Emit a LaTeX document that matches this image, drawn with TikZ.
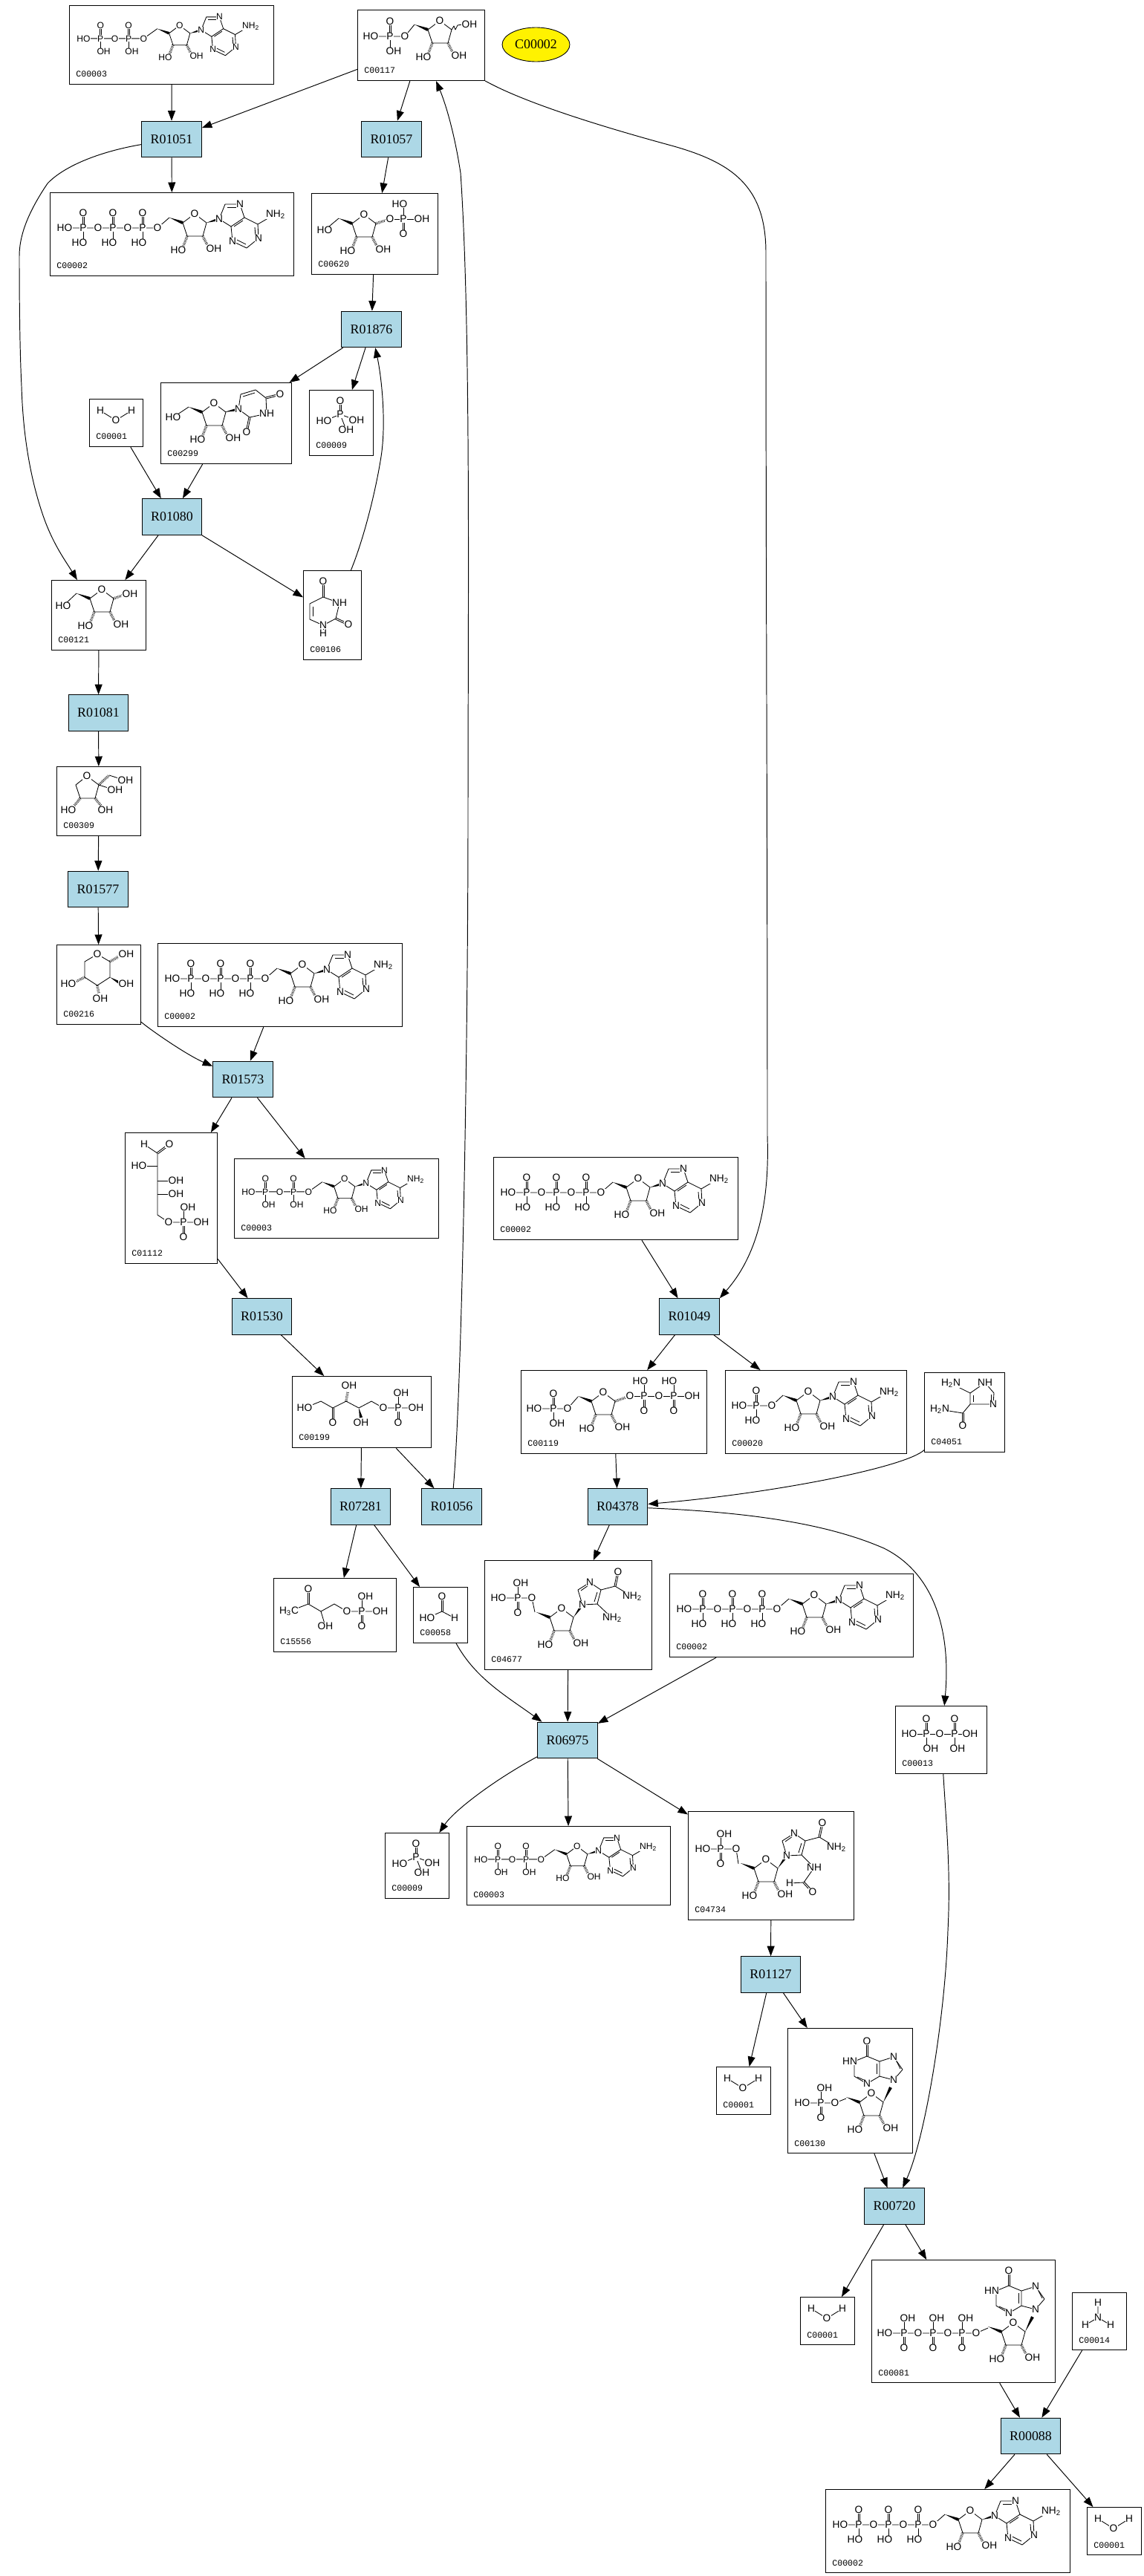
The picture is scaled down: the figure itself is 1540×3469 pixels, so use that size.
\documentclass[tikz,border=0pt]{standalone}
\usepackage{fontspec}
\usepackage{tikz}
\usetikzlibrary{arrows.meta,calc,shapes.geometric}
\newfontfamily\rxnfont{Liberation Serif}
\newfontfamily\atmfont{Liberation Sans}
\newfontfamily\idfont{Liberation Mono}
\tikzset{
  rxn/.style={draw, fill={rgb,255:red,173;green,216;blue,230}, line width=0.65pt, inner sep=0pt,
              minimum width=1.61cm, minimum height=0.97cm, font=\rxnfont\fontsize{10.2}{11}\selectfont},
  cpdbox/.style={draw, line width=0.65pt, inner sep=0pt, anchor=north west},
  cpdid/.style={anchor=west, inner sep=0pt, font=\idfont\fontsize{6.6}{7}\selectfont},
  atm/.style={fill=white, inner sep=0.25pt, font=\atmfont\fontsize{7.8}{8}\selectfont},
  bond/.style={line width=0.48pt, line join=round},
  hashb/.style={line width=2pt, dash pattern=on 0.35pt off 0.75pt},
  arrow/.style={-{Triangle[length=0.27cm,width=0.2cm]}, line width=0.55pt},
}
\newcounter{atomno}
\newcommand{\atoms}[1]{\foreach \xa/\ya/\ta in {#1}{\stepcounter{atomno}\node[atm] (atm\theatomno) at (\xa,\ya) {\ta};}}
\newcommand{\wedgeb}[2]{\fill (#1) -- ($(#2)!1.2pt!90:(#1)$) -- ($(#2)!-1.2pt!90:(#1)$) -- cycle;}
\newcommand{\dbb}[2]{\draw[bond] ($(#1)!0.6pt!90:(#2)$) -- ($(#2)!0.6pt!-90:(#1)$);
  \draw[bond] ($(#1)!-0.6pt!90:(#2)$) -- ($(#2)!-0.6pt!-90:(#1)$);}
\newcommand{\NHt}{NH\textsubscript{2}}
\newcommand{\Hn}{H\textsubscript{2}N}
% phosphorus with =O on top and a hydroxyl below
\newcommand{\pdown}[4]{\dbb{#1,#2}{#1,#2-20} \draw[bond] (#1,#2) -- (#1,#2+16);
  \atoms{#1/#2/P, #1/#2-20/O, #1+#3/#2+20/#4}}
% phosphorus with a hydroxyl on top and =O below
\newcommand{\pup}[4]{\dbb{#1,#2}{#1,#2+20} \draw[bond] (#1,#2) -- (#1,#2-16);
  \atoms{#1/#2/P, #1/#2+20/O, #1+#3/#2-20/#4}}
% sugar ring, origin at C4'
\newcommand{\ribRing}{\draw[bond] (0,0) -- (16,-12) -- (32,0) -- (27,18) -- (6,18) -- cycle;
  \wedgeb{-18,-7}{0,0}
  \draw[hashb] (6,18) -- (1,31); \draw[hashb] (27,18) -- (33,30);
  \atoms{16/-12/O, -6/37/HO, 42/35/OH}}
\newcommand{\adeBase}{\wedgeb{32,0}{49,-5}
  \draw[bond] (49,-5) -- (57,-25) -- (77,-25) -- (83,-7) -- (65,5) -- cycle;
  \draw[bond] (83,-7) -- (101,2) -- (102,21) -- (86,34) -- (67,25) -- (65,5);
  \draw[bond] (101,2) -- (125,-12);
  \draw[bond] (60,-21) -- (73,-21); \draw[bond] (81,-3) -- (69,5); \draw[bond] (97,6) -- (98,18); \draw[bond] (85,29) -- (73,23);
  \atoms{49/-5/N, 77/-25/N, 67/25/N, 102/21/N, 125/-11/\NHt}}
\newcommand{\hypoBase}{\wedgeb{32,0}{42,-20}
  \draw[bond] (10,-62) -- (-7,-55) -- (-7,-35) -- (10,-25) -- (27,-35) -- (27,-55) -- cycle;
  \draw[bond] (27,-55) -- (46,-61) -- (58,-44) -- (46,-30) -- (27,-35);
  \dbb{10,-62}{10,-82}
  \draw[bond] (23,-38) -- (23,-52); \draw[bond] (50,-55) -- (55,-45); \draw[bond] (-3,-34) -- (8,-29);
  \atoms{10/-82/O, -13/-55/HN, 10/-25/N, 46/-61/N, 46/-30/N}}
% the compounds, origin at the box corner
\newcommand{\molATP}{\draw[bond] (20,48) -- (145,48) -- (161,34);
  \pdown{45}{48}{-5}{HO}\pdown{85}{48}{-5}{HO}\pdown{125}{48}{-5}{HO}
  \atoms{20/48/HO, 65/48/O, 105/48/O, 145/48/O}
  \begin{scope}[shift={(179,41)}]\ribRing\adeBase\end{scope}}
\newcommand{\molADP}{\begin{scope}[scale=0.88, transform shape]
  \draw[bond] (22,51) -- (114,51) -- (135,36);
  \pdown{48}{51}{5}{OH}\pdown{91}{51}{5}{OH}
  \atoms{22/51/HO, 70/51/O, 114/51/O}
  \begin{scope}[shift={(153,43)}]\ribRing\adeBase\end{scope}\end{scope}}
\newcommand{\molAMP}{\draw[bond] (19,48) -- (63,48) -- (78,34);
  \pdown{42}{48}{-5}{HO}
  \atoms{19/48/HO, 63/48/O}
  \begin{scope}[shift={(96,41)}]\ribRing\adeBase\end{scope}}
\newcommand{\molRFP}{\draw[bond] (18,36) -- (64,36) -- (77,20);
  \pdown{44}{36}{5}{OH}
  \atoms{18/36/HO, 64/36/O}
  \begin{scope}[shift={(95,27)}]\ribRing
    \draw[bond] (32,0) -- (35,-5) -- (37,0) -- (40,-6) -- (46,-7);
    \atoms{56/-7/OH}\end{scope}}
\newcommand{\molRop}{\begin{scope}[shift={(55,41)}]
  \draw[bond] (-18,-7) -- (-37,9); \draw[hashb] (32,0) -- (51,-6); \draw[bond] (51,-6) -- (94,-6);
  \ribRing
  \pup{69}{-6}{-5}{HO}
  \atoms{-37/9/HO, 51/-6/O, 94/-6/OH}\end{scope}}
\newcommand{\molRib}{\begin{scope}[shift={(52,25)}]
  \draw[bond] (-18,-7) -- (-36,10); \draw[hashb] (32,0) -- (46,-5);
  \ribRing
  \atoms{-36/10/HO, 54/-6/OH}\end{scope}}
\newcommand{\molUrd}{\begin{scope}[shift={(56,40)}]
  \draw[bond] (-18,-7) -- (-39,7);
  \ribRing
  \wedgeb{30,0}{49,-4}
  \draw[bond] (49,-4) -- (52,-24) -- (72,-30) -- (86,-19) -- (87,2) -- (64,7) -- cycle;
  \draw[bond] (55,-21) -- (71,-26);
  \dbb{86,-19}{105,-24} \dbb{64,7}{60,27}
  \atoms{-39/7/HO, 49/-4/N, 105/-24/O, 87/2/NH, 60/27/O}\end{scope}}
\newcommand{\molUra}{\draw[bond] (27,36) -- (49,44) -- (44,65) -- (27,74) -- (9,66) -- (9,45) -- cycle;
  \draw[bond] (13,49) -- (13,62);
  \dbb{27,36}{27,15} \dbb{44,65}{61,73} \draw[bond] (27,74) -- (27,85);
  \atoms{27/15/O, 49/44/NH, 61/73/O, 27/85/H, 27/74/N}}
\newcommand{\molPi}{\draw[bond] (42,33) -- (20,42); \draw[bond] (42,33) -- (64,41); \draw[bond] (42,33) -- (50,54);
  \dbb{42,33}{42,15}
  \atoms{42/15/O, 42/33/P, 20/42/HO, 64/41/OH, 50/54/OH}}
\newcommand{\molWat}{\draw[bond] (15,16) -- (36,29) -- (57,16);
  \atoms{15/16/H, 36/29/O, 57/16/H}}
\newcommand{\molNH}{\draw[bond] (35,14) -- (35,34) -- (18,44); \draw[bond] (35,34) -- (52,44);
  \atoms{35/14/H, 35/34/N, 18/44/H, 52/44/H}}
\newcommand{\molFru}{\draw[bond] (41,13) -- (26,25) -- (32,43) -- (52,43) -- (57,25) -- cycle;
  \draw[hashb] (32,43) -- (24,53); \draw[hashb] (52,43) -- (60,53);
  \draw[hashb] (57,25) -- (71,12);
  \draw[bond] (71,12) -- (93,19); \draw[bond] (57,25) -- (79,32);
  \atoms{41/13/O, 16/59/HO, 66/59/OH, 93/19/OH, 79/32/OH}}
\newcommand{\molPyr}{\draw[bond] (55,13) -- (72,23) -- (72,44) -- (55,55) -- (38,44) -- (38,23) -- cycle;
  \draw[hashb] (72,23) -- (84,16); \wedgeb{72,44}{86,52}
  \draw[hashb] (38,44) -- (24,51); \draw[hashb] (55,55) -- (57,66);
  \atoms{55/13/O, 94/13/OH, 94/53/OH, 16/53/HO, 59/73/OH}}
\newcommand{\molOpen}{\draw[bond] (26,16) -- (44,28) -- (44,111) -- (59,121) -- (103,121);
  \dbb{44,28}{60,16}
  \draw[bond] (19,45) -- (44,45); \draw[bond] (44,65) -- (69,65); \draw[bond] (44,83) -- (69,83);
  \pup{79}{121}{6}{OH}
  \atoms{26/16/H, 60/16/O, 19/45/HO, 69/65/OH, 69/83/OH, 59/121/O, 103/121/OH}}
\newcommand{\molKet}{\draw[bond] (17,43) -- (39,34) -- (55,43) -- (73,34) -- (90,43) -- (107,34) -- (123,43) -- (167,43);
  \dbb{55,43}{55,63}
  \draw[hashb] (73,34) -- (75,21); \wedgeb{90,43}{93,56}
  \pup{143}{43}{4}{OH}
  \atoms{17/43/HO, 55/63/O, 77/13/OH, 93/63/OH, 123/43/O, 167/43/OH}}
\newcommand{\molOxo}{\draw[bond] (21,45) -- (47,35) -- (64,45) -- (82,35) -- (99,45) -- (144,45);
  \dbb{47,35}{47,15} \draw[bond] (64,45) -- (70,65);
  \pup{119}{45}{5}{OH}
  \atoms{21/45/H\textsubscript{3}C, 47/15/O, 70/65/OH, 99/45/O, 144/45/OH}}
\newcommand{\molFor}{\dbb{39,33}{39,13} \draw[bond] (19,42) -- (39,33) -- (56,42);
  \atoms{39/13/O, 19/42/HO, 56/42/H}}
\newcommand{\molAir}{\draw[bond] (19,51) -- (64,51) -- (68,70);
  \pup{45}{51}{4}{OH}
  \atoms{19/51/HO, 64/51/O}
  \begin{scope}[shift={(88,77)}]\ribRing\wedgeb{32,0}{44,-17}
  \draw[bond] (44,-17) -- (38,-37) -- (54,-47) -- (69,-37) -- (64,-18) -- cycle;
  \draw[bond] (69,-37) -- (88,-42) -- (111,-28); \dbb{88,-42}{92,-61}
  \draw[bond] (64,-34) -- (60,-21); \draw[bond] (42,-36) -- (52,-43);
  \draw[bond] (64,-18) -- (84,1);
  \atoms{44/-17/N, 54/-47/N, 92/-61/O, 111/-28/\NHt, 84/1/\NHt}\end{scope}}
\newcommand{\molFai}{\draw[bond] (20,51) -- (65,51) -- (68,71);
  \pup{44}{51}{5}{OH}
  \atoms{20/51/HO, 65/51/O}
  \begin{scope}[shift={(89,77)}]\ribRing\wedgeb{32,0}{44,-17}
  \draw[bond] (44,-17) -- (38,-37) -- (54,-47) -- (69,-37) -- (64,-18) -- cycle;
  \draw[bond] (69,-37) -- (88,-42) -- (111,-28); \dbb{88,-42}{92,-61}
  \draw[bond] (64,-34) -- (60,-21); \draw[bond] (42,-36) -- (52,-43);
  \draw[bond] (64,-18) -- (81,-1) -- (67,19) -- (48,20); \dbb{67,19}{79,32}
  \atoms{44/-17/N, 54/-47/N, 92/-61/O, 111/-28/\NHt, 81/-1/NH, 48/20/H, 79/32/O}\end{scope}}
\newcommand{\molPRPP}{\draw[bond] (18,52) -- (63,52) -- (77,36);
  \pdown{44}{52}{5}{OH}
  \atoms{18/52/HO, 63/52/O}
  \begin{scope}[shift={(95,42)}]
  \draw[hashb] (32,0) -- (46,-5); \draw[bond] (52,-7) -- (136,-7);
  \ribRing
  \pup{71}{-7}{-5}{HO}\pup{111}{-7}{-6}{HO}
  \atoms{52/-7/O, 91/-7/O, 136/-7/OH}\end{scope}}
\newcommand{\molPPi}{\draw[bond] (19,38) -- (101,38);
  \pdown{42}{38}{6}{OH}\pdown{80}{38}{4}{OH}
  \atoms{19/38/HO, 60/38/O, 101/38/OH}}
\newcommand{\molAic}{\draw[bond] (62,28) -- (82,14) -- (94,28) -- (93,43) -- (62,43) -- cycle;
  \draw[bond] (66,31) -- (66,40); \draw[bond] (90,30) -- (90,41);
  \draw[bond] (36,15) -- (62,28); \draw[bond] (62,43) -- (52,55) -- (21,50); \dbb{52,55}{52,72}
  \atoms{36/15/\Hn, 82/14/NH, 93/43/N, 52/72/O, 21/50/\Hn}}
\newcommand{\molIMP}{\draw[bond] (20,101) -- (64,101) -- (79,95);
  \pup{45}{101}{5}{OH}
  \atoms{20/101/HO, 64/101/O}
  \begin{scope}[shift={(97,100)}]\ribRing\hypoBase\end{scope}}
\newcommand{\molITP}{\draw[bond] (18,99) -- (141,99) -- (157,92);
  \pup{44}{99}{5}{OH}\pup{83}{99}{5}{OH}\pup{122}{99}{5}{OH}
  \atoms{18/99/HO, 63/99/O, 103/99/O, 141/99/O}
  \begin{scope}[shift={(175,97)}]\ribRing\hypoBase\end{scope}}
% box, compound number and drawing
\newcommand{\cpd}[7]{\node[cpdbox, minimum width=#4*0.02cm, minimum height=#5*0.02cm] (#1) at (#2,#3) {};
  \node[cpdid] (#1id) at ($(#1.south west)+(9,-14)$) {#6};
  \begin{scope}[shift={(#2,#3)}]#7\end{scope}}

\begin{document}
\begin{tikzpicture}[x=0.02cm, y=-0.02cm]
  \useasboundingbox (0,0) rectangle (1540,3469);

  \cpd{c00003a}{93}{7}{275}{106}{C00003}{\molADP}
  \cpd{c00117}{481}{13}{171}{95}{C00117}{\molRFP}
  \node[draw, ellipse, fill=yellow, line width=0.5pt, inner sep=0pt, minimum width=1.82cm, minimum height=0.92cm,
        font=\rxnfont\fontsize{10.2}{11}\selectfont] (cpdc00002) at (721.5,60) {C00002};
  \cpd{c00002a}{67}{259}{328}{112}{C00002}{\molATP}
  \cpd{c00620}{419}{260}{170}{109}{C00620}{\molRop}
  \cpd{c00299}{216}{515}{176}{109}{C00299}{\molUrd}
  \cpd{c00009a}{416}{525}{86}{88}{C00009}{\molPi}
  \cpd{c00001a}{120}{537}{72}{64}{C00001}{\molWat}
  \cpd{c00121}{69}{781}{127}{94}{C00121}{\molRib}
  \cpd{c00106}{408}{768}{78}{120}{C00106}{\molUra}
  \cpd{c00309}{76}{1032}{113}{93}{C00309}{\molFru}
  \cpd{c00216}{76}{1272}{113}{107}{C00216}{\molPyr}
  \cpd{c00002b}{212}{1270}{329}{112}{C00002}{\molATP}
  \cpd{c01112}{168}{1525}{124}{176}{C01112}{\molOpen}
  \cpd{c00003b}{315}{1560}{275}{107}{C00003}{\molADP}
  \cpd{c00002d}{664}{1558}{329}{111}{C00002}{\molATP}
  \cpd{c00199}{393}{1853}{187}{96}{C00199}{\molKet}
  \cpd{c00119}{701}{1845}{250}{112}{C00119}{\molPRPP}
  \cpd{c00020}{976}{1845}{244}{112}{C00020}{\molAMP}
  \cpd{c04051}{1244}{1848}{108}{107}{C04051}{\molAic}
  \cpd{c15556}{368}{2125}{165}{99}{C15556}{\molOxo}
  \cpd{c00058}{556}{2137}{73}{75}{C00058}{\molFor}
  \cpd{c04677}{652}{2101}{225}{147}{C04677}{\molAir}
  \cpd{c00002c}{901}{2119}{328}{112}{C00002}{\molATP}
  \cpd{c00013}{1205}{2297}{123}{91}{C00013}{\molPPi}
  \cpd{c00009b}{518}{2468}{86}{88}{C00009}{\molPi}
  \cpd{c00003c}{628}{2459}{274}{106}{C00003}{\molADP}
  \cpd{c04734}{926}{2439}{223}{146}{C04734}{\molFai}
  \cpd{c00001b}{964}{2783}{73}{64}{C00001}{\molWat}
  \cpd{c00130}{1060}{2731}{168}{168}{C00130}{\molIMP}
  \cpd{c00001c}{1077}{3093}{73}{64}{C00001}{\molWat}
  \cpd{c00081}{1173}{3043}{247}{165}{C00081}{\molITP}
  \cpd{c00014}{1443}{3087}{73}{77}{C00014}{\molNH}
  \cpd{c00002e}{1111}{3352}{329}{112}{C00002}{\molATP}
  \cpd{c00001d}{1463}{3376}{73}{64}{C00001}{\molWat}

  \node[rxn] (r01051) at (231,187.5) {R01051};
  \node[rxn] (r01057) at (527,187.5) {R01057};
  \node[rxn] (r01876) at (500,443.5) {R01876};
  \node[rxn] (r01080) at (231.5,696) {R01080};
  \node[rxn] (r01081) at (132.5,960) {R01081};
  \node[rxn] (r01577) at (132,1197.5) {R01577};
  \node[rxn] (r01573) at (327,1453.5) {R01573};
  \node[rxn] (r01530) at (352.5,1773) {R01530};
  \node[rxn] (r07281) at (485.5,2029) {R07281};
  \node[rxn] (r01056) at (608,2029) {R01056};
  \node[rxn] (r04378) at (831.5,2029) {R04378};
  \node[rxn] (r01049) at (928,1773) {R01049};
  \node[rxn] (r06975) at (764,2343.5) {R06975};
  \node[rxn] (r01127) at (1037.5,2659) {R01127};
  \node[rxn] (r00720) at (1204,2971) {R00720};
  \node[rxn] (r00088) at (1387.5,3280.5) {R00088};

  \draw[arrow] (c00003a) -- (r01051);
  \draw[arrow] (c00117) -- (r01051);
  \draw[arrow] (c00117) -- (r01057);
  \draw[arrow] (r01051) -- (c00002a);
  \draw[arrow] (r01057) -- (c00620);
  \draw[arrow] (c00620) -- (r01876);
  \draw[arrow] (r01876) -- (c00299);
  \draw[arrow] (r01876) -- (c00009a);
  \draw[arrow] (c00001a) -- (r01080);
  \draw[arrow] (c00299) -- (r01080);
  \draw[arrow] (r01080) -- (c00121);
  \draw[arrow] (r01080) -- (c00106);
  \draw[arrow] (c00121) -- (r01081);
  \draw[arrow] (r01081) -- (c00309);
  \draw[arrow] (c00309) -- (r01577);
  \draw[arrow] (r01577) -- (c00216);
  \draw[arrow] (c00002b) -- (r01573);
  \draw[arrow] (r01573) -- (c01112);
  \draw[arrow] (r01573) -- (c00003b);
  \draw[arrow] (c01112) -- (r01530);
  \draw[arrow] (r01530) -- (c00199);
  \draw[arrow] (c00199) -- (r07281);
  \draw[arrow] (c00199) -- (r01056);
  \draw[arrow] (r07281) -- (c15556);
  \draw[arrow] (r07281) -- (c00058);
  \draw[arrow] (c00002d) -- (r01049);
  \draw[arrow] (r01049) -- (c00119);
  \draw[arrow] (r01049) -- (c00020);
  \draw[arrow] (c00119) -- (r04378);
  \draw[arrow] (r04378) -- (c04677);
  \draw[arrow] (c04677) -- (r06975);
  \draw[arrow] (c00002c) -- (r06975);
  \draw[arrow] (r06975) -- (c00003c);
  \draw[arrow] (r06975) -- (c04734);
  \draw[arrow] (c04734) -- (r01127);
  \draw[arrow] (r01127) -- (c00001b);
  \draw[arrow] (r01127) -- (c00130);
  \draw[arrow] (c00130) -- (r00720);
  \draw[arrow] (r00720) -- (c00001c);
  \draw[arrow] (r00720) -- (c00081);
  \draw[arrow] (c00081) -- (r00088);
  \draw[arrow] (c00014) -- (r00088);
  \draw[arrow] (r00088) -- (c00002e);
  \draw[arrow] (r00088) -- (c00001d);

  % the long curved ones
  \draw[arrow] (r01051) .. controls (130,205) and (85,225) .. (64,247) .. controls (35,290) and (26,320) .. (26,345)
    .. controls (26,420) and (27,480) .. (29,520) .. controls (31,590) and (42,650) .. (60,700) .. controls (73,735) and (88,755) .. (c00121);
  \draw[arrow] (c00117) .. controls (700,135) and (790,165) .. (900,195) .. controls (985,218) and (1031,250) .. (1031,340)
    .. controls (1031,800) and (1033,1100) .. (1033,1530) .. controls (1036,1620) and (1020,1690) .. (r01049.north east);
  \draw[arrow] (c00106) .. controls (490,725) and (506,660) .. (513,615) .. controls (520,570) and (514,510) .. (r01876);
  \draw[arrow] (r01056) .. controls (622,1870) and (630,1400) .. (630,1100) .. controls (630,800) and (634,440) .. (620,233)
    .. controls (612,180) and (600,140) .. (c00117);
  \draw[arrow] (c00216) .. controls (200,1385) and (250,1420) .. (r01573);
  \draw[arrow] (c00058) .. controls (640,2260) and (680,2283) .. (r06975);
  \draw[arrow] (r06975) .. controls (660,2400) and (610,2440) .. (c00009b);
  \draw[arrow] (c04051) .. controls (1220,1975) and (1050,2010) .. (r04378);
  \draw[arrow] (r04378) .. controls (1000,2036) and (1110,2050) .. (1190,2085) .. controls (1260,2120) and (1280,2200) .. (c00013);
  \draw[arrow] (c00013) .. controls (1274,2460) and (1280,2520) .. (1276,2600) .. controls (1272,2720) and (1245,2880) .. (r00720);
\end{tikzpicture}
\end{document}
